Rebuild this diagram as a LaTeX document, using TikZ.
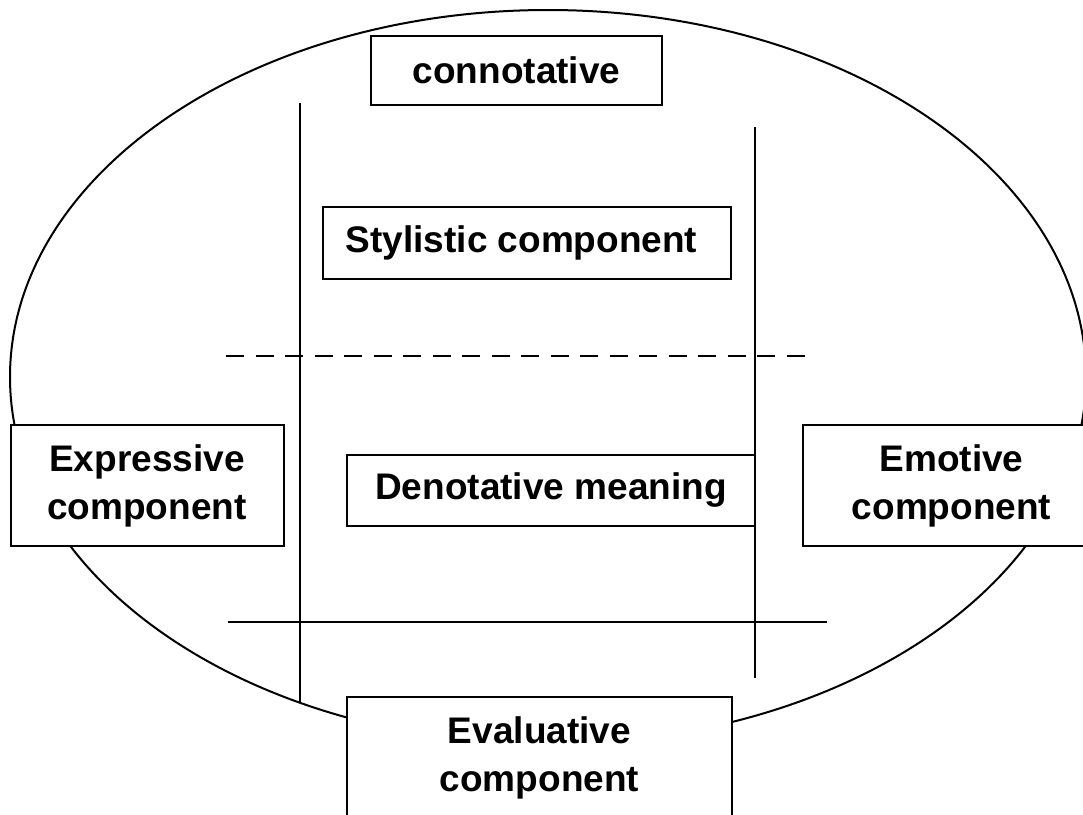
\documentclass[tikz,border=0pt]{standalone}
\usepackage{fontspec}
\setmainfont{Liberation Sans}
\begin{document}
\begin{tikzpicture}[x=1pt,y=-1pt,
  outline/.style={line width=2pt},
  rule/.style={line width=2pt},
  brokenrule/.style={line width=2pt, dash pattern=on 18pt off 11.5pt},
  labeltext/.style={font=\bfseries\fontsize{37}{48}\selectfont, align=center, inner sep=0pt},
  box/.style={draw, line width=2pt, fill=white, inner sep=0pt, labeltext},
]
\useasboundingbox (0,0) rectangle (1083,814);

% outer ellipse
\draw[outline] (548,377) ellipse [x radius=538, y radius=367];

% guide lines
\coordinate (vl-top) at (300,103);
\coordinate (vl-bot) at (300,702);
\coordinate (vr-top) at (755,127);
\coordinate (vr-bot) at (755,678);
\coordinate (dash-l) at (226,356);
\coordinate (dash-r) at (806,356);
\coordinate (base-l) at (228,622);
\coordinate (base-r) at (827,622);

\draw[rule] (vl-top) -- (vl-bot);
\draw[rule] (vr-top) -- (vr-bot);
\draw[brokenrule] (dash-l) -- (dash-r);
\draw[rule] (base-l) -- (base-r);

% boxes
\node[box, minimum width=291, minimum height=69] (conn) at (516.5,70.5) {connotative};
\node[box, minimum width=408, minimum height=72,
      label={[labeltext, xshift=-5pt]center:Stylistic component}] (styl) at (526.5,243) {};
\node[box, minimum width=408, minimum height=71] (deno) at (551,490.5) {Denotative meaning};
\node[box, minimum width=273, minimum height=121] (expr) at (147,485.5) {Expressive\\component};
\node[box, minimum width=297, minimum height=121] (emot) at (951.5,485.5) {Emotive\\component};
\node[box, minimum width=385, minimum height=122] (eval) at (539.5,758) {Evaluative\\component};
\end{tikzpicture}
\end{document}
